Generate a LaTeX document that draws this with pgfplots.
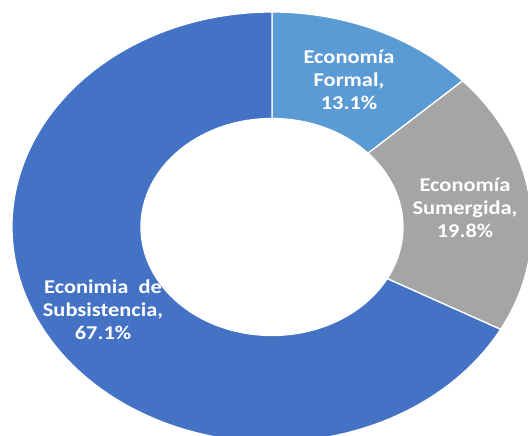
\documentclass[border=0pt]{standalone}
\usepackage{fontspec}
\setmainfont{Carlito}
\newfontfamily\labfont[FakeStretch=1.15]{Carlito}
\usepackage{pgfplots}
\usepackage{pgfplotstable}
\pgfplotsset{compat=1.18}

\definecolor{formal}{HTML}{5B9BD5}
\definecolor{sumergida}{HTML}{A5A5A5}
\definecolor{subsist}{HTML}{4472C4}

% shares in percent, clockwise from 12 o'clock
\pgfplotstableread{
name value
Formal 13.1
Sumergida 19.8
Subsistencia 67.1
}\shares

\pgfplotstablegetelem{0}{value}\of\shares \let\vA\pgfplotsretval
\pgfplotstablegetelem{1}{value}\of\shares \let\vB\pgfplotsretval
\pgfplotstablegetelem{2}{value}\of\shares \let\vC\pgfplotsretval

\tikzset{lab/.style={align=center, text=white, inner sep=0pt,
  font=\labfont\bfseries\fontsize{19.5}{23}\selectfont}}

% ring: centre (272,209), outer radii 260/215, inner 131/108.5
\newcommand\slice[3]{%
  \fill[#3, draw=white, line width=1.3pt]
    ({272+260*cos(#1)},{209+215*sin(#1)})
    arc[start angle=#1, end angle=#2, x radius=260, y radius=215]
    -- ({272+131*cos(#2)},{209+108.5*sin(#2)})
    arc[start angle=#2, end angle=#1, x radius=131, y radius=108.5]
    -- cycle;}

\begin{document}
\begin{tikzpicture}
\pgfmathsetmacro\aA{90-3.6*\vA}
\pgfmathsetmacro\aB{\aA-3.6*\vB}
\pgfmathsetmacro\aC{\aB-3.6*\vC}
\begin{axis}[
  name=ring,
  x=1pt, y=1pt,
  xmin=0, xmax=528, ymin=0, ymax=436,
  hide axis,
  clip=true
]
\slice{90}{\aA}{formal}
\slice{\aA}{\aB}{sumergida}
\slice{\aB}{\aC}{subsist}
\node[lab] at (349,356) {Economía\\Formal,\\\vA\%};
\node[lab] at (465,228) {Economía\\Sumergida,\\\vB\%};
\node[lab] at (103,126) {Econimia\ \ de\\Subsistencia,\\\vC\%};
\end{axis}
\pgfresetboundingbox
\path (ring.south west) rectangle (ring.north east);
\end{tikzpicture}
\end{document}
